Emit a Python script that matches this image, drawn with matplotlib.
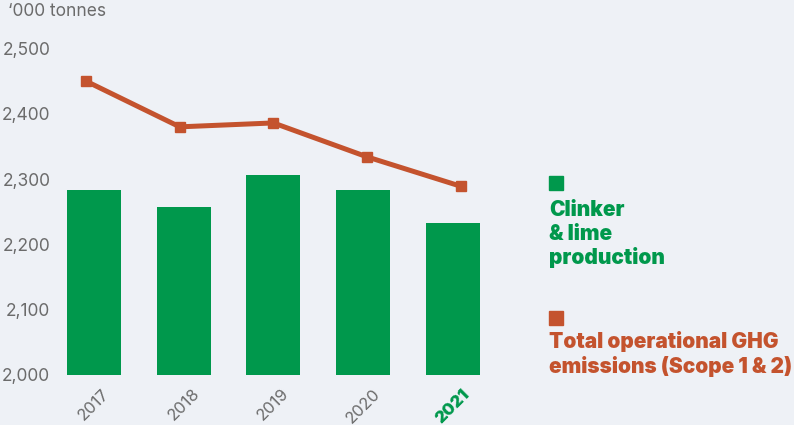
import matplotlib.pyplot as plt
import numpy as np

years = ["2017", "2018", "2019", "2020", "2021"]
clinker = [2283, 2257, 2306, 2283, 2233]
ghg = [2450, 2380, 2386, 2334, 2289]
yticks = [2000, 2100, 2200, 2300, 2400, 2500]

bg = "#eef1f6"
green = "#00984c"
orange = "#c4532e"
grey = "#6b6b6b"

plt.rcParams['font.family'] = ['Inter', 'DejaVu Sans']

fig = plt.figure(figsize=(7.94, 4.25), dpi=100, facecolor=bg)
ax = fig.add_axes([60 / 794, 50 / 425, 440 / 794, 335 / 425])
ax.set_facecolor(bg)

x = np.arange(len(years))
ax.bar(x, clinker, width=0.6, color=green, zorder=2)
ax.set_xlim(-0.379, 4.526)
ax.set_ylim(2000, 2513)
ax.set_yticks(yticks)
ax.set_yticklabels([f"{v:,}" for v in yticks], color=grey, fontsize=12.5)
ax.set_xticks(x)
ax.set_xticklabels(years, rotation=45, ha="center", color=grey, fontsize=12)
lab = ax.get_xticklabels()[-1]
lab.set_color(green)
lab.set_fontweight("black")
ax.tick_params(length=0, axis="y", pad=7)
ax.tick_params(length=0, axis="x", pad=8)
for s in ax.spines.values():
    s.set_visible(False)

# line sits on its own x scale
ax2 = ax.twiny()
ax2.set_xlim(-0.2775, 4.418)
ax2.plot(x, ghg, color=orange, lw=3.6, marker="s", ms=7.5, zorder=3)
ax2.set_xticks([])
for s in ax2.spines.values():
    s.set_visible(False)

fig.text(8 / 794, 1 - 11 / 425, "\u2018000 tonnes", color=grey, fontsize=12.5,
         va="center", ha="left")

# legend as text blocks
fig.patches.append(plt.Rectangle((549 / 794, 1 - 190 / 425), 14 / 794, 14 / 425,
                                 transform=fig.transFigure, color=green))
fig.text(549 / 794, 1 - 200 / 425, "Clinker\n& lime\nproduction", color=green,
         fontsize=15, fontweight="black", va="top", ha="left", linespacing=1.22)
fig.patches.append(plt.Rectangle((549 / 794, 1 - 325 / 425), 14 / 794, 14 / 425,
                                 transform=fig.transFigure, color=orange))
fig.text(549 / 794, 1 - 331 / 425, "Total operational GHG\nemissions (Scope 1 & 2)",
         color=orange, fontsize=15, fontweight="black", va="top", ha="left",
         linespacing=1.22)

fig.savefig("out.png", dpi=100, facecolor=bg)
